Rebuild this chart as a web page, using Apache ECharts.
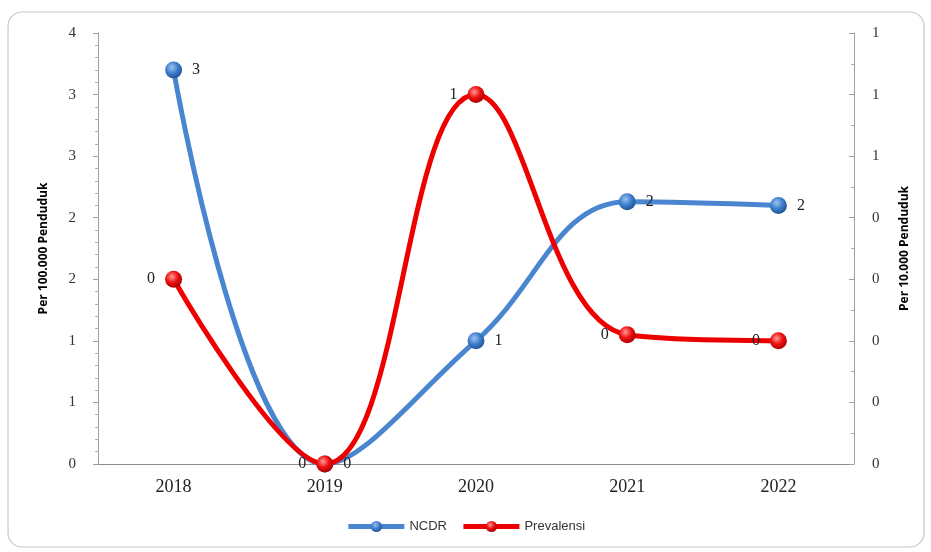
<!DOCTYPE html>
<html><head><meta charset="utf-8">
<script src="https://cdn.jsdelivr.net/npm/echarts@6/dist/echarts.min.js"></script>
<style>html,body{margin:0;padding:0;background:#fff}#c{width:931px;height:552px}</style>
</head><body><div id="c"></div>
<script>
var years = ['2018','2019','2020','2021','2022'];
var ncdr = [3.2, 0, 1.0, 2.13, 2.1];
var prevalensi = [0.3, 0, 0.6, 0.21, 0.2];
var leftAxisName = 'Per 100.000 Penduduk';
var rightAxisName = 'Per 10.000 Penduduk';

function sphere(c1, c2, c3){
  return {type:'radial', x:0.4, y:0.35, r:0.7, colorStops:[{offset:0,color:c1},{offset:0.5,color:c2},{offset:1,color:c3}]};
}
var chart = echarts.init(document.getElementById('c'));
var serif = '"Liberation Serif","DejaVu Serif",serif';
chart.setOption({
  animation:false,
  graphic:[{type:'rect', shape:{x:8,y:12,width:916,height:535,r:14}, style:{fill:'none',stroke:'#c8c8c8',lineWidth:1.2}, silent:true, z:-1}],
  grid:{left:98, right:77, top:33, bottom:88},
  legend:{bottom:14, left:'center', itemWidth:56, itemHeight:14, itemGap:14,
    lineStyle:{width:5},
    textStyle:{fontFamily:'"Liberation Sans",Arial,sans-serif', fontSize:13, color:'#333'},
    data:['NCDR','Prevalensi']},
  xAxis:{type:'category', data:years, boundaryGap:true,
    axisLine:{lineStyle:{color:'#8c8c8c'}}, axisTick:{show:false},
    axisLabel:{fontFamily:serif, fontSize:18, color:'#222', margin:14}},
  yAxis:[
    {type:'value', min:0, max:3.5, interval:0.5, name:leftAxisName, nameLocation:'middle', nameGap:48,
     nameTextStyle:{fontFamily:'"Open Sans","DejaVu Sans",sans-serif', fontWeight:'bold', fontSize:12, color:'#000'},
     axisLine:{show:true, lineStyle:{color:'#a0a0a0'}},
     axisTick:{show:true, inside:false, length:5, lineStyle:{color:'#a0a0a0'}},
     minorTick:{show:true, splitNumber:5, length:3, lineStyle:{color:'#b0b0b0'}},
     splitLine:{show:false},
     axisLabel:{fontFamily:serif, fontSize:15, color:'#333', margin:22, formatter:function(v){return String(Math.round(v));}}},
    {type:'value', min:0, max:0.7, interval:0.1, position:'right', name:rightAxisName, nameLocation:'middle', nameGap:45, nameRotate:90,
     nameTextStyle:{fontFamily:'"Open Sans","DejaVu Sans",sans-serif', fontWeight:'bold', fontSize:12, color:'#000'},
     axisLine:{show:true, lineStyle:{color:'#a0a0a0'}},
     axisTick:{show:true, length:5, inside:true, lineStyle:{color:'#a0a0a0'}},
     minorTick:{show:true, splitNumber:2, length:3, lineStyle:{color:'#b0b0b0'}},
     splitLine:{show:false},
     axisLabel:{fontFamily:serif, fontSize:15, color:'#333', margin:18, formatter:function(v){return String(Math.round(v+1e-9));}}}
  ],
  series:[
    {name:'NCDR', type:'line', yAxisIndex:0, data:ncdr, smooth:0.4, z:3,
     symbol:'circle', symbolSize:17,
     lineStyle:{color:'#4a86cf', width:5},
     itemStyle:{color:sphere('#9ec3ee','#3f7fce','#1d4f8f'), borderWidth:0},
     label:{show:true, position:'right', distance:10, fontFamily:serif, fontSize:16, color:'#222', formatter:function(p){return String(Math.round(p.value));}}},
    {name:'Prevalensi', type:'line', yAxisIndex:1, data:prevalensi, smooth:0.4, z:4,
     symbol:'circle', symbolSize:17,
     lineStyle:{color:'#ee0000', width:5},
     itemStyle:{color:sphere('#ff9a9a','#ee1010','#a00000'), borderWidth:0},
     label:{show:true, position:'left', distance:10, fontFamily:serif, fontSize:16, color:'#222', formatter:function(p){return String(Math.round(p.value));}}}
  ]
});
</script></body></html>
